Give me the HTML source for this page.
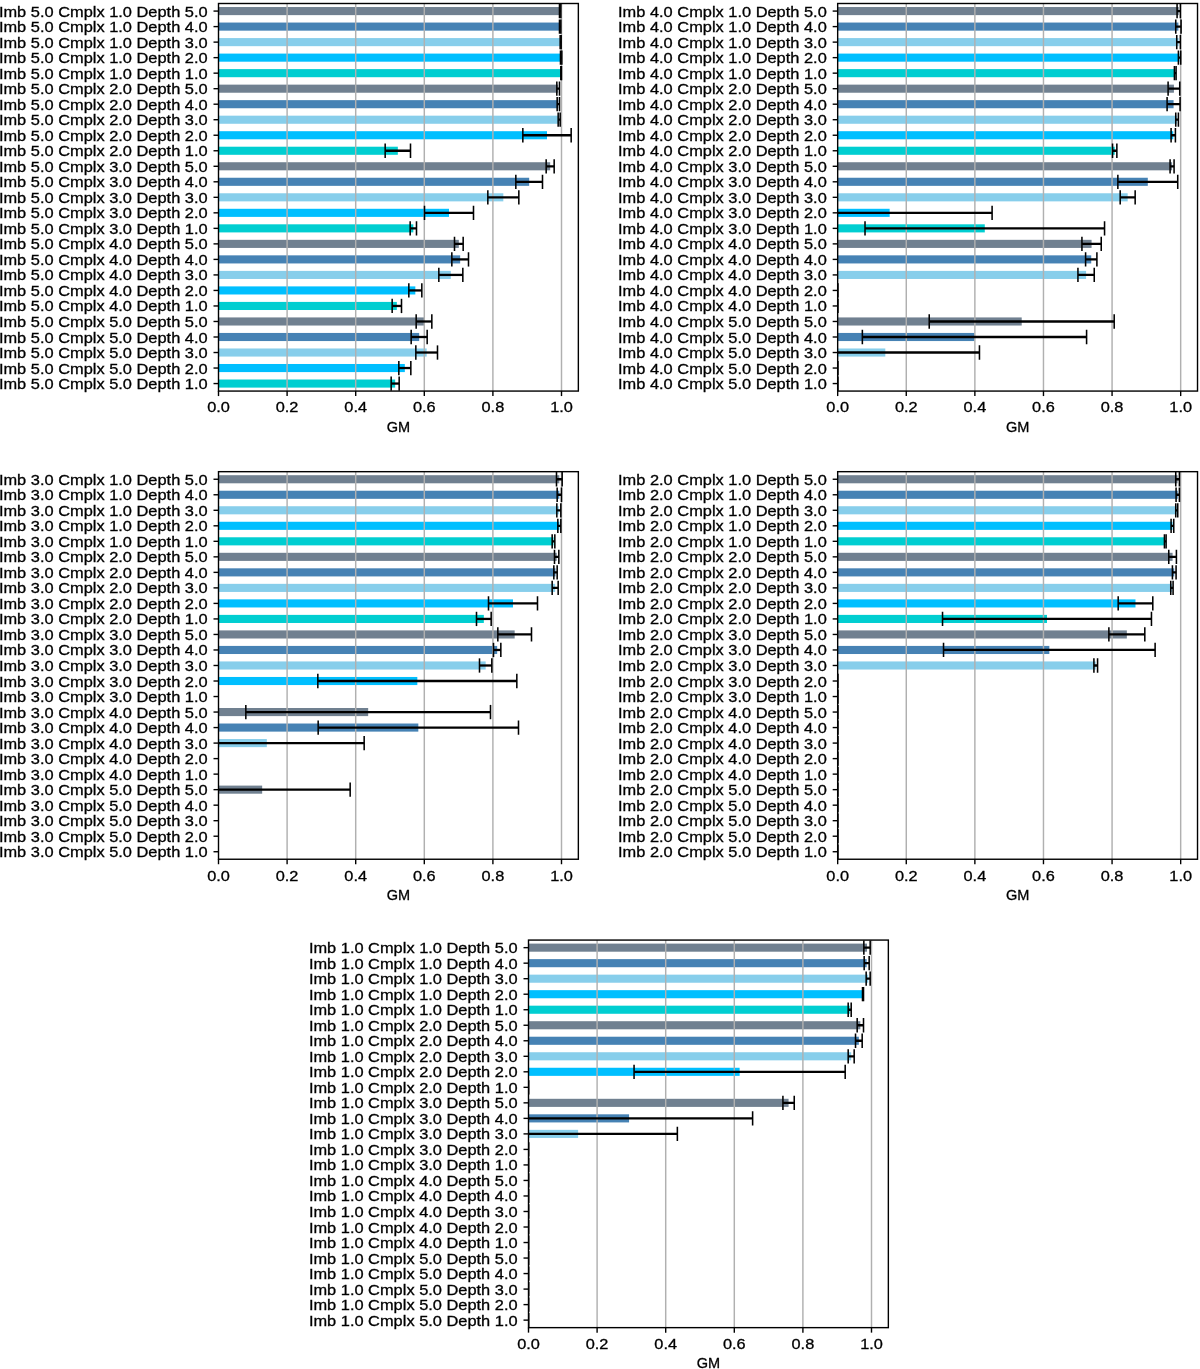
<!DOCTYPE html>
<html lang="en"><head><meta charset="utf-8"><title>GM bar charts</title>
<style>
html,body{margin:0;padding:0;background:#fff;}
body{width:1200px;height:1369px;overflow:hidden;}
svg{display:block;}
text{font-family:"Liberation Sans",sans-serif;font-size:14.6px;fill:#000;stroke:#000;stroke-width:0.3px;}
svg{will-change:transform;}
</style></head>
<body>

<svg width="1200" height="1369" viewBox="0 0 1200 1369">
<rect x="0" y="0" width="1200" height="1369" fill="#fff"/>
<g>
<clipPath id="c5"><rect x="218.5" y="3.5" width="359.85" height="387.57"/></clipPath>
<g clip-path="url(#c5)">
<g><rect x="218.5" y="7.03" width="341.67" height="8.1" fill="#708090"/><rect x="218.5" y="22.55" width="341.67" height="8.1" fill="#4682B4"/><rect x="218.5" y="38.07" width="342.17" height="8.1" fill="#87CEEB"/><rect x="218.5" y="53.59" width="342.67" height="8.1" fill="#00BFFF"/><rect x="218.5" y="69.11" width="342.67" height="8.1" fill="#00CED1"/><rect x="218.5" y="84.63" width="339.67" height="8.1" fill="#708090"/><rect x="218.5" y="100.15" width="339.83" height="8.1" fill="#4682B4"/><rect x="218.5" y="115.67" width="340.67" height="8.1" fill="#87CEEB"/><rect x="218.5" y="131.19" width="328.5" height="8.1" fill="#00BFFF"/><rect x="218.5" y="146.71" width="179.33" height="8.1" fill="#00CED1"/><rect x="218.5" y="162.23" width="331.67" height="8.1" fill="#708090"/><rect x="218.5" y="177.75" width="310.67" height="8.1" fill="#4682B4"/><rect x="218.5" y="193.27" width="284.83" height="8.1" fill="#87CEEB"/><rect x="218.5" y="208.79" width="230.5" height="8.1" fill="#00BFFF"/><rect x="218.5" y="224.31" width="194.83" height="8.1" fill="#00CED1"/><rect x="218.5" y="239.83" width="240.33" height="8.1" fill="#708090"/><rect x="218.5" y="255.35" width="241.67" height="8.1" fill="#4682B4"/><rect x="218.5" y="270.87" width="232.33" height="8.1" fill="#87CEEB"/><rect x="218.5" y="286.39" width="196.83" height="8.1" fill="#00BFFF"/><rect x="218.5" y="301.91" width="178.33" height="8.1" fill="#00CED1"/><rect x="218.5" y="317.43" width="205.5" height="8.1" fill="#708090"/><rect x="218.5" y="332.95" width="200.67" height="8.1" fill="#4682B4"/><rect x="218.5" y="348.47" width="208.17" height="8.1" fill="#87CEEB"/><rect x="218.5" y="363.99" width="186.33" height="8.1" fill="#00BFFF"/><rect x="218.5" y="379.51" width="176.67" height="8.1" fill="#00CED1"/></g>
<g stroke="#b0b0b0" stroke-width="1.45"><line x1="287.1" y1="3.5" x2="287.1" y2="391.07"/><line x1="355.7" y1="3.5" x2="355.7" y2="391.07"/><line x1="424.3" y1="3.5" x2="424.3" y2="391.07"/><line x1="492.9" y1="3.5" x2="492.9" y2="391.07"/><line x1="561.5" y1="3.5" x2="561.5" y2="391.07"/></g>
<g stroke="#000"><line x1="559.5" y1="11.08" x2="560.83" y2="11.08" stroke-width="2.3"/><line x1="559.5" y1="3.93" x2="559.5" y2="18.23" stroke-width="1.55"/><line x1="560.83" y1="3.93" x2="560.83" y2="18.23" stroke-width="1.55"/><line x1="559.5" y1="26.6" x2="560.83" y2="26.6" stroke-width="2.3"/><line x1="559.5" y1="19.45" x2="559.5" y2="33.75" stroke-width="1.55"/><line x1="560.83" y1="19.45" x2="560.83" y2="33.75" stroke-width="1.55"/><line x1="560.17" y1="42.12" x2="561.17" y2="42.12" stroke-width="2.3"/><line x1="560.17" y1="34.97" x2="560.17" y2="49.27" stroke-width="1.55"/><line x1="561.17" y1="34.97" x2="561.17" y2="49.27" stroke-width="1.55"/><line x1="560.5" y1="57.64" x2="561.83" y2="57.64" stroke-width="2.3"/><line x1="560.5" y1="50.49" x2="560.5" y2="64.79" stroke-width="1.55"/><line x1="561.83" y1="50.49" x2="561.83" y2="64.79" stroke-width="1.55"/><line x1="560.83" y1="73.16" x2="561.5" y2="73.16" stroke-width="2.3"/><line x1="560.83" y1="66.01" x2="560.83" y2="80.31" stroke-width="1.55"/><line x1="561.5" y1="66.01" x2="561.5" y2="80.31" stroke-width="1.55"/><line x1="556.83" y1="88.68" x2="559.5" y2="88.68" stroke-width="2.3"/><line x1="556.83" y1="81.53" x2="556.83" y2="95.83" stroke-width="1.55"/><line x1="559.5" y1="81.53" x2="559.5" y2="95.83" stroke-width="1.55"/><line x1="557.17" y1="104.2" x2="559.5" y2="104.2" stroke-width="2.3"/><line x1="557.17" y1="97.05" x2="557.17" y2="111.35" stroke-width="1.55"/><line x1="559.5" y1="97.05" x2="559.5" y2="111.35" stroke-width="1.55"/><line x1="558.17" y1="119.72" x2="560.17" y2="119.72" stroke-width="2.3"/><line x1="558.17" y1="112.57" x2="558.17" y2="126.87" stroke-width="1.55"/><line x1="560.17" y1="112.57" x2="560.17" y2="126.87" stroke-width="1.55"/><line x1="522.83" y1="135.24" x2="571.17" y2="135.24" stroke-width="2.3"/><line x1="522.83" y1="128.09" x2="522.83" y2="142.39" stroke-width="1.55"/><line x1="571.17" y1="128.09" x2="571.17" y2="142.39" stroke-width="1.55"/><line x1="385.17" y1="150.76" x2="410.5" y2="150.76" stroke-width="2.3"/><line x1="385.17" y1="143.61" x2="385.17" y2="157.91" stroke-width="1.55"/><line x1="410.5" y1="143.61" x2="410.5" y2="157.91" stroke-width="1.55"/><line x1="546.17" y1="166.28" x2="554.17" y2="166.28" stroke-width="2.3"/><line x1="546.17" y1="159.13" x2="546.17" y2="173.43" stroke-width="1.55"/><line x1="554.17" y1="159.13" x2="554.17" y2="173.43" stroke-width="1.55"/><line x1="515.83" y1="181.8" x2="542.5" y2="181.8" stroke-width="2.3"/><line x1="515.83" y1="174.65" x2="515.83" y2="188.95" stroke-width="1.55"/><line x1="542.5" y1="174.65" x2="542.5" y2="188.95" stroke-width="1.55"/><line x1="487.83" y1="197.32" x2="518.83" y2="197.32" stroke-width="2.3"/><line x1="487.83" y1="190.17" x2="487.83" y2="204.47" stroke-width="1.55"/><line x1="518.83" y1="190.17" x2="518.83" y2="204.47" stroke-width="1.55"/><line x1="424.5" y1="212.84" x2="473.5" y2="212.84" stroke-width="2.3"/><line x1="424.5" y1="205.69" x2="424.5" y2="219.99" stroke-width="1.55"/><line x1="473.5" y1="205.69" x2="473.5" y2="219.99" stroke-width="1.55"/><line x1="410.17" y1="228.36" x2="416.5" y2="228.36" stroke-width="2.3"/><line x1="410.17" y1="221.21" x2="410.17" y2="235.51" stroke-width="1.55"/><line x1="416.5" y1="221.21" x2="416.5" y2="235.51" stroke-width="1.55"/><line x1="454.5" y1="243.88" x2="463.17" y2="243.88" stroke-width="2.3"/><line x1="454.5" y1="236.73" x2="454.5" y2="251.03" stroke-width="1.55"/><line x1="463.17" y1="236.73" x2="463.17" y2="251.03" stroke-width="1.55"/><line x1="451.83" y1="259.4" x2="468.5" y2="259.4" stroke-width="2.3"/><line x1="451.83" y1="252.25" x2="451.83" y2="266.55" stroke-width="1.55"/><line x1="468.5" y1="252.25" x2="468.5" y2="266.55" stroke-width="1.55"/><line x1="438.83" y1="274.92" x2="462.83" y2="274.92" stroke-width="2.3"/><line x1="438.83" y1="267.77" x2="438.83" y2="282.07" stroke-width="1.55"/><line x1="462.83" y1="267.77" x2="462.83" y2="282.07" stroke-width="1.55"/><line x1="408.83" y1="290.44" x2="421.83" y2="290.44" stroke-width="2.3"/><line x1="408.83" y1="283.29" x2="408.83" y2="297.59" stroke-width="1.55"/><line x1="421.83" y1="283.29" x2="421.83" y2="297.59" stroke-width="1.55"/><line x1="392.17" y1="305.96" x2="401.5" y2="305.96" stroke-width="2.3"/><line x1="392.17" y1="298.81" x2="392.17" y2="313.11" stroke-width="1.55"/><line x1="401.5" y1="298.81" x2="401.5" y2="313.11" stroke-width="1.55"/><line x1="416.17" y1="321.48" x2="431.83" y2="321.48" stroke-width="2.3"/><line x1="416.17" y1="314.33" x2="416.17" y2="328.63" stroke-width="1.55"/><line x1="431.83" y1="314.33" x2="431.83" y2="328.63" stroke-width="1.55"/><line x1="411.17" y1="337" x2="427.17" y2="337" stroke-width="2.3"/><line x1="411.17" y1="329.85" x2="411.17" y2="344.15" stroke-width="1.55"/><line x1="427.17" y1="329.85" x2="427.17" y2="344.15" stroke-width="1.55"/><line x1="415.83" y1="352.52" x2="437.5" y2="352.52" stroke-width="2.3"/><line x1="415.83" y1="345.37" x2="415.83" y2="359.67" stroke-width="1.55"/><line x1="437.5" y1="345.37" x2="437.5" y2="359.67" stroke-width="1.55"/><line x1="398.83" y1="368.04" x2="410.83" y2="368.04" stroke-width="2.3"/><line x1="398.83" y1="360.89" x2="398.83" y2="375.19" stroke-width="1.55"/><line x1="410.83" y1="360.89" x2="410.83" y2="375.19" stroke-width="1.55"/><line x1="391.17" y1="383.56" x2="399.17" y2="383.56" stroke-width="2.3"/><line x1="391.17" y1="376.41" x2="391.17" y2="390.71" stroke-width="1.55"/><line x1="399.17" y1="376.41" x2="399.17" y2="390.71" stroke-width="1.55"/></g>
</g>
<g stroke="#000" stroke-width="1.4"><line x1="218.5" y1="391.07" x2="218.5" y2="396.07"/><line x1="287.1" y1="391.07" x2="287.1" y2="396.07"/><line x1="355.7" y1="391.07" x2="355.7" y2="396.07"/><line x1="424.3" y1="391.07" x2="424.3" y2="396.07"/><line x1="492.9" y1="391.07" x2="492.9" y2="396.07"/><line x1="561.5" y1="391.07" x2="561.5" y2="396.07"/><line x1="213.5" y1="11.08" x2="218.5" y2="11.08"/><line x1="213.5" y1="26.6" x2="218.5" y2="26.6"/><line x1="213.5" y1="42.12" x2="218.5" y2="42.12"/><line x1="213.5" y1="57.64" x2="218.5" y2="57.64"/><line x1="213.5" y1="73.16" x2="218.5" y2="73.16"/><line x1="213.5" y1="88.68" x2="218.5" y2="88.68"/><line x1="213.5" y1="104.2" x2="218.5" y2="104.2"/><line x1="213.5" y1="119.72" x2="218.5" y2="119.72"/><line x1="213.5" y1="135.24" x2="218.5" y2="135.24"/><line x1="213.5" y1="150.76" x2="218.5" y2="150.76"/><line x1="213.5" y1="166.28" x2="218.5" y2="166.28"/><line x1="213.5" y1="181.8" x2="218.5" y2="181.8"/><line x1="213.5" y1="197.32" x2="218.5" y2="197.32"/><line x1="213.5" y1="212.84" x2="218.5" y2="212.84"/><line x1="213.5" y1="228.36" x2="218.5" y2="228.36"/><line x1="213.5" y1="243.88" x2="218.5" y2="243.88"/><line x1="213.5" y1="259.4" x2="218.5" y2="259.4"/><line x1="213.5" y1="274.92" x2="218.5" y2="274.92"/><line x1="213.5" y1="290.44" x2="218.5" y2="290.44"/><line x1="213.5" y1="305.96" x2="218.5" y2="305.96"/><line x1="213.5" y1="321.48" x2="218.5" y2="321.48"/><line x1="213.5" y1="337" x2="218.5" y2="337"/><line x1="213.5" y1="352.52" x2="218.5" y2="352.52"/><line x1="213.5" y1="368.04" x2="218.5" y2="368.04"/><line x1="213.5" y1="383.56" x2="218.5" y2="383.56"/></g>
<rect x="218.5" y="3.5" width="359.85" height="387.57" fill="none" stroke="#000" stroke-width="1.4"/>
<g class="t"><text x="-1.1" y="16.58" textLength="208.7" lengthAdjust="spacingAndGlyphs">Imb 5.0 Cmplx 1.0 Depth 5.0</text><text x="-1.1" y="32.1" textLength="208.7" lengthAdjust="spacingAndGlyphs">Imb 5.0 Cmplx 1.0 Depth 4.0</text><text x="-1.1" y="47.62" textLength="208.7" lengthAdjust="spacingAndGlyphs">Imb 5.0 Cmplx 1.0 Depth 3.0</text><text x="-1.1" y="63.14" textLength="208.7" lengthAdjust="spacingAndGlyphs">Imb 5.0 Cmplx 1.0 Depth 2.0</text><text x="-1.1" y="78.66" textLength="208.7" lengthAdjust="spacingAndGlyphs">Imb 5.0 Cmplx 1.0 Depth 1.0</text><text x="-1.1" y="94.18" textLength="208.7" lengthAdjust="spacingAndGlyphs">Imb 5.0 Cmplx 2.0 Depth 5.0</text><text x="-1.1" y="109.7" textLength="208.7" lengthAdjust="spacingAndGlyphs">Imb 5.0 Cmplx 2.0 Depth 4.0</text><text x="-1.1" y="125.22" textLength="208.7" lengthAdjust="spacingAndGlyphs">Imb 5.0 Cmplx 2.0 Depth 3.0</text><text x="-1.1" y="140.74" textLength="208.7" lengthAdjust="spacingAndGlyphs">Imb 5.0 Cmplx 2.0 Depth 2.0</text><text x="-1.1" y="156.26" textLength="208.7" lengthAdjust="spacingAndGlyphs">Imb 5.0 Cmplx 2.0 Depth 1.0</text><text x="-1.1" y="171.78" textLength="208.7" lengthAdjust="spacingAndGlyphs">Imb 5.0 Cmplx 3.0 Depth 5.0</text><text x="-1.1" y="187.3" textLength="208.7" lengthAdjust="spacingAndGlyphs">Imb 5.0 Cmplx 3.0 Depth 4.0</text><text x="-1.1" y="202.82" textLength="208.7" lengthAdjust="spacingAndGlyphs">Imb 5.0 Cmplx 3.0 Depth 3.0</text><text x="-1.1" y="218.34" textLength="208.7" lengthAdjust="spacingAndGlyphs">Imb 5.0 Cmplx 3.0 Depth 2.0</text><text x="-1.1" y="233.86" textLength="208.7" lengthAdjust="spacingAndGlyphs">Imb 5.0 Cmplx 3.0 Depth 1.0</text><text x="-1.1" y="249.38" textLength="208.7" lengthAdjust="spacingAndGlyphs">Imb 5.0 Cmplx 4.0 Depth 5.0</text><text x="-1.1" y="264.9" textLength="208.7" lengthAdjust="spacingAndGlyphs">Imb 5.0 Cmplx 4.0 Depth 4.0</text><text x="-1.1" y="280.42" textLength="208.7" lengthAdjust="spacingAndGlyphs">Imb 5.0 Cmplx 4.0 Depth 3.0</text><text x="-1.1" y="295.94" textLength="208.7" lengthAdjust="spacingAndGlyphs">Imb 5.0 Cmplx 4.0 Depth 2.0</text><text x="-1.1" y="311.46" textLength="208.7" lengthAdjust="spacingAndGlyphs">Imb 5.0 Cmplx 4.0 Depth 1.0</text><text x="-1.1" y="326.98" textLength="208.7" lengthAdjust="spacingAndGlyphs">Imb 5.0 Cmplx 5.0 Depth 5.0</text><text x="-1.1" y="342.5" textLength="208.7" lengthAdjust="spacingAndGlyphs">Imb 5.0 Cmplx 5.0 Depth 4.0</text><text x="-1.1" y="358.02" textLength="208.7" lengthAdjust="spacingAndGlyphs">Imb 5.0 Cmplx 5.0 Depth 3.0</text><text x="-1.1" y="373.54" textLength="208.7" lengthAdjust="spacingAndGlyphs">Imb 5.0 Cmplx 5.0 Depth 2.0</text><text x="-1.1" y="389.06" textLength="208.7" lengthAdjust="spacingAndGlyphs">Imb 5.0 Cmplx 5.0 Depth 1.0</text></g>
<g class="t"><text x="218.5" y="412.37" text-anchor="middle" textLength="22.7" lengthAdjust="spacingAndGlyphs">0.0</text><text x="287.1" y="412.37" text-anchor="middle" textLength="22.7" lengthAdjust="spacingAndGlyphs">0.2</text><text x="355.7" y="412.37" text-anchor="middle" textLength="22.7" lengthAdjust="spacingAndGlyphs">0.4</text><text x="424.3" y="412.37" text-anchor="middle" textLength="22.7" lengthAdjust="spacingAndGlyphs">0.6</text><text x="492.9" y="412.37" text-anchor="middle" textLength="22.7" lengthAdjust="spacingAndGlyphs">0.8</text><text x="561.5" y="412.37" text-anchor="middle" textLength="22.7" lengthAdjust="spacingAndGlyphs">1.0</text><text x="398.43" y="431.87" text-anchor="middle" textLength="23.4" lengthAdjust="spacingAndGlyphs">GM</text></g>
</g>
<g>
<clipPath id="c4"><rect x="837.67" y="3.5" width="359.85" height="387.57"/></clipPath>
<g clip-path="url(#c4)">
<g><rect x="837.67" y="7.03" width="341.07" height="8.1" fill="#708090"/><rect x="837.67" y="22.55" width="340.74" height="8.1" fill="#4682B4"/><rect x="837.67" y="38.07" width="340.9" height="8.1" fill="#87CEEB"/><rect x="837.67" y="53.59" width="341.9" height="8.1" fill="#00BFFF"/><rect x="837.67" y="69.11" width="337.58" height="8.1" fill="#00CED1"/><rect x="837.67" y="84.63" width="336.25" height="8.1" fill="#708090"/><rect x="837.67" y="100.15" width="335.91" height="8.1" fill="#4682B4"/><rect x="837.67" y="115.67" width="339.41" height="8.1" fill="#87CEEB"/><rect x="837.67" y="131.19" width="335.58" height="8.1" fill="#00BFFF"/><rect x="837.67" y="146.71" width="277.03" height="8.1" fill="#00CED1"/><rect x="837.67" y="162.23" width="334.42" height="8.1" fill="#708090"/><rect x="837.67" y="177.75" width="310.13" height="8.1" fill="#4682B4"/><rect x="837.67" y="193.27" width="290" height="8.1" fill="#87CEEB"/><rect x="837.67" y="208.79" width="51.97" height="8.1" fill="#00BFFF"/><rect x="837.67" y="224.31" width="147.11" height="8.1" fill="#00CED1"/><rect x="837.67" y="239.83" width="253.91" height="8.1" fill="#708090"/><rect x="837.67" y="255.35" width="253.57" height="8.1" fill="#4682B4"/><rect x="837.67" y="270.87" width="248.42" height="8.1" fill="#87CEEB"/><rect x="837.67" y="317.43" width="184.04" height="8.1" fill="#708090"/><rect x="837.67" y="332.95" width="136.8" height="8.1" fill="#4682B4"/><rect x="837.67" y="348.47" width="47.64" height="8.1" fill="#87CEEB"/></g>
<g stroke="#b0b0b0" stroke-width="1.45"><line x1="906.27" y1="3.5" x2="906.27" y2="391.07"/><line x1="974.87" y1="3.5" x2="974.87" y2="391.07"/><line x1="1043.47" y1="3.5" x2="1043.47" y2="391.07"/><line x1="1112.07" y1="3.5" x2="1112.07" y2="391.07"/><line x1="1180.67" y1="3.5" x2="1180.67" y2="391.07"/></g>
<g stroke="#000"><line x1="1177.08" y1="11.08" x2="1180.4" y2="11.08" stroke-width="2.3"/><line x1="1177.08" y1="3.93" x2="1177.08" y2="18.23" stroke-width="1.55"/><line x1="1180.4" y1="3.93" x2="1180.4" y2="18.23" stroke-width="1.55"/><line x1="1175.75" y1="26.6" x2="1181.07" y2="26.6" stroke-width="2.3"/><line x1="1175.75" y1="19.45" x2="1175.75" y2="33.75" stroke-width="1.55"/><line x1="1181.07" y1="19.45" x2="1181.07" y2="33.75" stroke-width="1.55"/><line x1="1176.75" y1="42.12" x2="1180.4" y2="42.12" stroke-width="2.3"/><line x1="1176.75" y1="34.97" x2="1176.75" y2="49.27" stroke-width="1.55"/><line x1="1180.4" y1="34.97" x2="1180.4" y2="49.27" stroke-width="1.55"/><line x1="1178.41" y1="57.64" x2="1180.74" y2="57.64" stroke-width="2.3"/><line x1="1178.41" y1="50.49" x2="1178.41" y2="64.79" stroke-width="1.55"/><line x1="1180.74" y1="50.49" x2="1180.74" y2="64.79" stroke-width="1.55"/><line x1="1174.42" y1="73.16" x2="1176.08" y2="73.16" stroke-width="2.3"/><line x1="1174.42" y1="66.01" x2="1174.42" y2="80.31" stroke-width="1.55"/><line x1="1176.08" y1="66.01" x2="1176.08" y2="80.31" stroke-width="1.55"/><line x1="1168.1" y1="88.68" x2="1179.74" y2="88.68" stroke-width="2.3"/><line x1="1168.1" y1="81.53" x2="1168.1" y2="95.83" stroke-width="1.55"/><line x1="1179.74" y1="81.53" x2="1179.74" y2="95.83" stroke-width="1.55"/><line x1="1167.1" y1="104.2" x2="1180.07" y2="104.2" stroke-width="2.3"/><line x1="1167.1" y1="97.05" x2="1167.1" y2="111.35" stroke-width="1.55"/><line x1="1180.07" y1="97.05" x2="1180.07" y2="111.35" stroke-width="1.55"/><line x1="1175.75" y1="119.72" x2="1178.41" y2="119.72" stroke-width="2.3"/><line x1="1175.75" y1="112.57" x2="1175.75" y2="126.87" stroke-width="1.55"/><line x1="1178.41" y1="112.57" x2="1178.41" y2="126.87" stroke-width="1.55"/><line x1="1171.09" y1="135.24" x2="1175.41" y2="135.24" stroke-width="2.3"/><line x1="1171.09" y1="128.09" x2="1171.09" y2="142.39" stroke-width="1.55"/><line x1="1175.41" y1="128.09" x2="1175.41" y2="142.39" stroke-width="1.55"/><line x1="1112.54" y1="150.76" x2="1116.86" y2="150.76" stroke-width="2.3"/><line x1="1112.54" y1="143.61" x2="1112.54" y2="157.91" stroke-width="1.55"/><line x1="1116.86" y1="143.61" x2="1116.86" y2="157.91" stroke-width="1.55"/><line x1="1170.09" y1="166.28" x2="1174.08" y2="166.28" stroke-width="2.3"/><line x1="1170.09" y1="159.13" x2="1170.09" y2="173.43" stroke-width="1.55"/><line x1="1174.08" y1="159.13" x2="1174.08" y2="173.43" stroke-width="1.55"/><line x1="1117.86" y1="181.8" x2="1177.74" y2="181.8" stroke-width="2.3"/><line x1="1117.86" y1="174.65" x2="1117.86" y2="188.95" stroke-width="1.55"/><line x1="1177.74" y1="174.65" x2="1177.74" y2="188.95" stroke-width="1.55"/><line x1="1120.19" y1="197.32" x2="1135.16" y2="197.32" stroke-width="2.3"/><line x1="1120.19" y1="190.17" x2="1120.19" y2="204.47" stroke-width="1.55"/><line x1="1135.16" y1="190.17" x2="1135.16" y2="204.47" stroke-width="1.55"/><line x1="787.17" y1="212.84" x2="992.1" y2="212.84" stroke-width="2.3"/><line x1="786.77" y1="205.69" x2="786.77" y2="219.99" stroke-width="1.55"/><line x1="992.1" y1="205.69" x2="992.1" y2="219.99" stroke-width="1.55"/><line x1="865.02" y1="228.36" x2="1104.55" y2="228.36" stroke-width="2.3"/><line x1="865.02" y1="221.21" x2="865.02" y2="235.51" stroke-width="1.55"/><line x1="1104.55" y1="221.21" x2="1104.55" y2="235.51" stroke-width="1.55"/><line x1="1081.93" y1="243.88" x2="1101.23" y2="243.88" stroke-width="2.3"/><line x1="1081.93" y1="236.73" x2="1081.93" y2="251.03" stroke-width="1.55"/><line x1="1101.23" y1="236.73" x2="1101.23" y2="251.03" stroke-width="1.55"/><line x1="1085.59" y1="259.4" x2="1096.9" y2="259.4" stroke-width="2.3"/><line x1="1085.59" y1="252.25" x2="1085.59" y2="266.55" stroke-width="1.55"/><line x1="1096.9" y1="252.25" x2="1096.9" y2="266.55" stroke-width="1.55"/><line x1="1077.94" y1="274.92" x2="1094.24" y2="274.92" stroke-width="2.3"/><line x1="1077.94" y1="267.77" x2="1077.94" y2="282.07" stroke-width="1.55"/><line x1="1094.24" y1="267.77" x2="1094.24" y2="282.07" stroke-width="1.55"/><line x1="837.67" y1="283.29" x2="837.67" y2="297.59" stroke-width="1.55"/><line x1="837.67" y1="283.29" x2="837.67" y2="297.59" stroke-width="1.55"/><line x1="837.67" y1="298.81" x2="837.67" y2="313.11" stroke-width="1.55"/><line x1="837.67" y1="298.81" x2="837.67" y2="313.11" stroke-width="1.55"/><line x1="929.23" y1="321.48" x2="1114.2" y2="321.48" stroke-width="2.3"/><line x1="929.23" y1="314.33" x2="929.23" y2="328.63" stroke-width="1.55"/><line x1="1114.2" y1="314.33" x2="1114.2" y2="328.63" stroke-width="1.55"/><line x1="862.36" y1="337" x2="1086.59" y2="337" stroke-width="2.3"/><line x1="862.36" y1="329.85" x2="862.36" y2="344.15" stroke-width="1.55"/><line x1="1086.59" y1="329.85" x2="1086.59" y2="344.15" stroke-width="1.55"/><line x1="791.16" y1="352.52" x2="979.46" y2="352.52" stroke-width="2.3"/><line x1="790.76" y1="345.37" x2="790.76" y2="359.67" stroke-width="1.55"/><line x1="979.46" y1="345.37" x2="979.46" y2="359.67" stroke-width="1.55"/><line x1="837.67" y1="360.89" x2="837.67" y2="375.19" stroke-width="1.55"/><line x1="837.67" y1="360.89" x2="837.67" y2="375.19" stroke-width="1.55"/><line x1="837.67" y1="376.41" x2="837.67" y2="390.71" stroke-width="1.55"/><line x1="837.67" y1="376.41" x2="837.67" y2="390.71" stroke-width="1.55"/></g>
</g>
<g stroke="#000" stroke-width="1.4"><line x1="837.67" y1="391.07" x2="837.67" y2="396.07"/><line x1="906.27" y1="391.07" x2="906.27" y2="396.07"/><line x1="974.87" y1="391.07" x2="974.87" y2="396.07"/><line x1="1043.47" y1="391.07" x2="1043.47" y2="396.07"/><line x1="1112.07" y1="391.07" x2="1112.07" y2="396.07"/><line x1="1180.67" y1="391.07" x2="1180.67" y2="396.07"/><line x1="832.67" y1="11.08" x2="837.67" y2="11.08"/><line x1="832.67" y1="26.6" x2="837.67" y2="26.6"/><line x1="832.67" y1="42.12" x2="837.67" y2="42.12"/><line x1="832.67" y1="57.64" x2="837.67" y2="57.64"/><line x1="832.67" y1="73.16" x2="837.67" y2="73.16"/><line x1="832.67" y1="88.68" x2="837.67" y2="88.68"/><line x1="832.67" y1="104.2" x2="837.67" y2="104.2"/><line x1="832.67" y1="119.72" x2="837.67" y2="119.72"/><line x1="832.67" y1="135.24" x2="837.67" y2="135.24"/><line x1="832.67" y1="150.76" x2="837.67" y2="150.76"/><line x1="832.67" y1="166.28" x2="837.67" y2="166.28"/><line x1="832.67" y1="181.8" x2="837.67" y2="181.8"/><line x1="832.67" y1="197.32" x2="837.67" y2="197.32"/><line x1="832.67" y1="212.84" x2="837.67" y2="212.84"/><line x1="832.67" y1="228.36" x2="837.67" y2="228.36"/><line x1="832.67" y1="243.88" x2="837.67" y2="243.88"/><line x1="832.67" y1="259.4" x2="837.67" y2="259.4"/><line x1="832.67" y1="274.92" x2="837.67" y2="274.92"/><line x1="832.67" y1="290.44" x2="837.67" y2="290.44"/><line x1="832.67" y1="305.96" x2="837.67" y2="305.96"/><line x1="832.67" y1="321.48" x2="837.67" y2="321.48"/><line x1="832.67" y1="337" x2="837.67" y2="337"/><line x1="832.67" y1="352.52" x2="837.67" y2="352.52"/><line x1="832.67" y1="368.04" x2="837.67" y2="368.04"/><line x1="832.67" y1="383.56" x2="837.67" y2="383.56"/></g>
<rect x="837.67" y="3.5" width="359.85" height="387.57" fill="none" stroke="#000" stroke-width="1.4"/>
<g class="t"><text x="618.07" y="16.58" textLength="208.7" lengthAdjust="spacingAndGlyphs">Imb 4.0 Cmplx 1.0 Depth 5.0</text><text x="618.07" y="32.1" textLength="208.7" lengthAdjust="spacingAndGlyphs">Imb 4.0 Cmplx 1.0 Depth 4.0</text><text x="618.07" y="47.62" textLength="208.7" lengthAdjust="spacingAndGlyphs">Imb 4.0 Cmplx 1.0 Depth 3.0</text><text x="618.07" y="63.14" textLength="208.7" lengthAdjust="spacingAndGlyphs">Imb 4.0 Cmplx 1.0 Depth 2.0</text><text x="618.07" y="78.66" textLength="208.7" lengthAdjust="spacingAndGlyphs">Imb 4.0 Cmplx 1.0 Depth 1.0</text><text x="618.07" y="94.18" textLength="208.7" lengthAdjust="spacingAndGlyphs">Imb 4.0 Cmplx 2.0 Depth 5.0</text><text x="618.07" y="109.7" textLength="208.7" lengthAdjust="spacingAndGlyphs">Imb 4.0 Cmplx 2.0 Depth 4.0</text><text x="618.07" y="125.22" textLength="208.7" lengthAdjust="spacingAndGlyphs">Imb 4.0 Cmplx 2.0 Depth 3.0</text><text x="618.07" y="140.74" textLength="208.7" lengthAdjust="spacingAndGlyphs">Imb 4.0 Cmplx 2.0 Depth 2.0</text><text x="618.07" y="156.26" textLength="208.7" lengthAdjust="spacingAndGlyphs">Imb 4.0 Cmplx 2.0 Depth 1.0</text><text x="618.07" y="171.78" textLength="208.7" lengthAdjust="spacingAndGlyphs">Imb 4.0 Cmplx 3.0 Depth 5.0</text><text x="618.07" y="187.3" textLength="208.7" lengthAdjust="spacingAndGlyphs">Imb 4.0 Cmplx 3.0 Depth 4.0</text><text x="618.07" y="202.82" textLength="208.7" lengthAdjust="spacingAndGlyphs">Imb 4.0 Cmplx 3.0 Depth 3.0</text><text x="618.07" y="218.34" textLength="208.7" lengthAdjust="spacingAndGlyphs">Imb 4.0 Cmplx 3.0 Depth 2.0</text><text x="618.07" y="233.86" textLength="208.7" lengthAdjust="spacingAndGlyphs">Imb 4.0 Cmplx 3.0 Depth 1.0</text><text x="618.07" y="249.38" textLength="208.7" lengthAdjust="spacingAndGlyphs">Imb 4.0 Cmplx 4.0 Depth 5.0</text><text x="618.07" y="264.9" textLength="208.7" lengthAdjust="spacingAndGlyphs">Imb 4.0 Cmplx 4.0 Depth 4.0</text><text x="618.07" y="280.42" textLength="208.7" lengthAdjust="spacingAndGlyphs">Imb 4.0 Cmplx 4.0 Depth 3.0</text><text x="618.07" y="295.94" textLength="208.7" lengthAdjust="spacingAndGlyphs">Imb 4.0 Cmplx 4.0 Depth 2.0</text><text x="618.07" y="311.46" textLength="208.7" lengthAdjust="spacingAndGlyphs">Imb 4.0 Cmplx 4.0 Depth 1.0</text><text x="618.07" y="326.98" textLength="208.7" lengthAdjust="spacingAndGlyphs">Imb 4.0 Cmplx 5.0 Depth 5.0</text><text x="618.07" y="342.5" textLength="208.7" lengthAdjust="spacingAndGlyphs">Imb 4.0 Cmplx 5.0 Depth 4.0</text><text x="618.07" y="358.02" textLength="208.7" lengthAdjust="spacingAndGlyphs">Imb 4.0 Cmplx 5.0 Depth 3.0</text><text x="618.07" y="373.54" textLength="208.7" lengthAdjust="spacingAndGlyphs">Imb 4.0 Cmplx 5.0 Depth 2.0</text><text x="618.07" y="389.06" textLength="208.7" lengthAdjust="spacingAndGlyphs">Imb 4.0 Cmplx 5.0 Depth 1.0</text></g>
<g class="t"><text x="837.67" y="412.37" text-anchor="middle" textLength="22.7" lengthAdjust="spacingAndGlyphs">0.0</text><text x="906.27" y="412.37" text-anchor="middle" textLength="22.7" lengthAdjust="spacingAndGlyphs">0.2</text><text x="974.87" y="412.37" text-anchor="middle" textLength="22.7" lengthAdjust="spacingAndGlyphs">0.4</text><text x="1043.47" y="412.37" text-anchor="middle" textLength="22.7" lengthAdjust="spacingAndGlyphs">0.6</text><text x="1112.07" y="412.37" text-anchor="middle" textLength="22.7" lengthAdjust="spacingAndGlyphs">0.8</text><text x="1180.67" y="412.37" text-anchor="middle" textLength="22.7" lengthAdjust="spacingAndGlyphs">1.0</text><text x="1017.6" y="431.87" text-anchor="middle" textLength="23.4" lengthAdjust="spacingAndGlyphs">GM</text></g>
</g>
<g>
<clipPath id="c3"><rect x="218.5" y="471.67" width="359.85" height="387.57"/></clipPath>
<g clip-path="url(#c3)">
<g><rect x="218.5" y="475.2" width="340.83" height="8.1" fill="#708090"/><rect x="218.5" y="490.72" width="340.83" height="8.1" fill="#4682B4"/><rect x="218.5" y="506.24" width="340.33" height="8.1" fill="#87CEEB"/><rect x="218.5" y="521.76" width="340.83" height="8.1" fill="#00BFFF"/><rect x="218.5" y="537.28" width="335" height="8.1" fill="#00CED1"/><rect x="218.5" y="552.8" width="338.17" height="8.1" fill="#708090"/><rect x="218.5" y="568.32" width="337" height="8.1" fill="#4682B4"/><rect x="218.5" y="583.84" width="336.67" height="8.1" fill="#87CEEB"/><rect x="218.5" y="599.36" width="294.5" height="8.1" fill="#00BFFF"/><rect x="218.5" y="614.88" width="265.33" height="8.1" fill="#00CED1"/><rect x="218.5" y="630.4" width="296.17" height="8.1" fill="#708090"/><rect x="218.5" y="645.92" width="278.67" height="8.1" fill="#4682B4"/><rect x="218.5" y="661.44" width="267.17" height="8.1" fill="#87CEEB"/><rect x="218.5" y="676.96" width="198.83" height="8.1" fill="#00BFFF"/><rect x="218.5" y="708" width="149.67" height="8.1" fill="#708090"/><rect x="218.5" y="723.52" width="199.83" height="8.1" fill="#4682B4"/><rect x="218.5" y="739.04" width="48.33" height="8.1" fill="#87CEEB"/><rect x="218.5" y="785.6" width="43.67" height="8.1" fill="#708090"/></g>
<g stroke="#b0b0b0" stroke-width="1.45"><line x1="287.1" y1="471.67" x2="287.1" y2="859.24"/><line x1="355.7" y1="471.67" x2="355.7" y2="859.24"/><line x1="424.3" y1="471.67" x2="424.3" y2="859.24"/><line x1="492.9" y1="471.67" x2="492.9" y2="859.24"/><line x1="561.5" y1="471.67" x2="561.5" y2="859.24"/></g>
<g stroke="#000"><line x1="556.5" y1="479.25" x2="562.17" y2="479.25" stroke-width="2.3"/><line x1="556.5" y1="472.1" x2="556.5" y2="486.4" stroke-width="1.55"/><line x1="562.17" y1="472.1" x2="562.17" y2="486.4" stroke-width="1.55"/><line x1="557.17" y1="494.77" x2="561.5" y2="494.77" stroke-width="2.3"/><line x1="557.17" y1="487.62" x2="557.17" y2="501.92" stroke-width="1.55"/><line x1="561.5" y1="487.62" x2="561.5" y2="501.92" stroke-width="1.55"/><line x1="556.83" y1="510.29" x2="560.83" y2="510.29" stroke-width="2.3"/><line x1="556.83" y1="503.14" x2="556.83" y2="517.44" stroke-width="1.55"/><line x1="560.83" y1="503.14" x2="560.83" y2="517.44" stroke-width="1.55"/><line x1="557.83" y1="525.81" x2="560.83" y2="525.81" stroke-width="2.3"/><line x1="557.83" y1="518.66" x2="557.83" y2="532.96" stroke-width="1.55"/><line x1="560.83" y1="518.66" x2="560.83" y2="532.96" stroke-width="1.55"/><line x1="552.17" y1="541.33" x2="554.83" y2="541.33" stroke-width="2.3"/><line x1="552.17" y1="534.18" x2="552.17" y2="548.48" stroke-width="1.55"/><line x1="554.83" y1="534.18" x2="554.83" y2="548.48" stroke-width="1.55"/><line x1="554.5" y1="556.85" x2="558.83" y2="556.85" stroke-width="2.3"/><line x1="554.5" y1="549.7" x2="554.5" y2="564" stroke-width="1.55"/><line x1="558.83" y1="549.7" x2="558.83" y2="564" stroke-width="1.55"/><line x1="553.83" y1="572.37" x2="557.17" y2="572.37" stroke-width="2.3"/><line x1="553.83" y1="565.22" x2="553.83" y2="579.52" stroke-width="1.55"/><line x1="557.17" y1="565.22" x2="557.17" y2="579.52" stroke-width="1.55"/><line x1="552.17" y1="587.89" x2="558.17" y2="587.89" stroke-width="2.3"/><line x1="552.17" y1="580.74" x2="552.17" y2="595.04" stroke-width="1.55"/><line x1="558.17" y1="580.74" x2="558.17" y2="595.04" stroke-width="1.55"/><line x1="488.5" y1="603.41" x2="537.5" y2="603.41" stroke-width="2.3"/><line x1="488.5" y1="596.26" x2="488.5" y2="610.56" stroke-width="1.55"/><line x1="537.5" y1="596.26" x2="537.5" y2="610.56" stroke-width="1.55"/><line x1="476.5" y1="618.93" x2="491.17" y2="618.93" stroke-width="2.3"/><line x1="476.5" y1="611.78" x2="476.5" y2="626.08" stroke-width="1.55"/><line x1="491.17" y1="611.78" x2="491.17" y2="626.08" stroke-width="1.55"/><line x1="497.83" y1="634.45" x2="531.5" y2="634.45" stroke-width="2.3"/><line x1="497.83" y1="627.3" x2="497.83" y2="641.6" stroke-width="1.55"/><line x1="531.5" y1="627.3" x2="531.5" y2="641.6" stroke-width="1.55"/><line x1="493.5" y1="649.97" x2="500.83" y2="649.97" stroke-width="2.3"/><line x1="493.5" y1="642.82" x2="493.5" y2="657.12" stroke-width="1.55"/><line x1="500.83" y1="642.82" x2="500.83" y2="657.12" stroke-width="1.55"/><line x1="479.5" y1="665.49" x2="491.83" y2="665.49" stroke-width="2.3"/><line x1="479.5" y1="658.34" x2="479.5" y2="672.64" stroke-width="1.55"/><line x1="491.83" y1="658.34" x2="491.83" y2="672.64" stroke-width="1.55"/><line x1="317.83" y1="681.01" x2="516.83" y2="681.01" stroke-width="2.3"/><line x1="317.83" y1="673.86" x2="317.83" y2="688.16" stroke-width="1.55"/><line x1="516.83" y1="673.86" x2="516.83" y2="688.16" stroke-width="1.55"/><line x1="245.83" y1="712.05" x2="490.5" y2="712.05" stroke-width="2.3"/><line x1="245.83" y1="704.9" x2="245.83" y2="719.2" stroke-width="1.55"/><line x1="490.5" y1="704.9" x2="490.5" y2="719.2" stroke-width="1.55"/><line x1="318.17" y1="727.57" x2="518.5" y2="727.57" stroke-width="2.3"/><line x1="318.17" y1="720.42" x2="318.17" y2="734.72" stroke-width="1.55"/><line x1="518.5" y1="720.42" x2="518.5" y2="734.72" stroke-width="1.55"/><line x1="169.5" y1="743.09" x2="364.17" y2="743.09" stroke-width="2.3"/><line x1="169.5" y1="735.94" x2="169.5" y2="750.24" stroke-width="1.55"/><line x1="364.17" y1="735.94" x2="364.17" y2="750.24" stroke-width="1.55"/><line x1="174.17" y1="789.65" x2="350.17" y2="789.65" stroke-width="2.3"/><line x1="174.17" y1="782.5" x2="174.17" y2="796.8" stroke-width="1.55"/><line x1="350.17" y1="782.5" x2="350.17" y2="796.8" stroke-width="1.55"/></g>
</g>
<g stroke="#000" stroke-width="1.4"><line x1="218.5" y1="859.24" x2="218.5" y2="864.24"/><line x1="287.1" y1="859.24" x2="287.1" y2="864.24"/><line x1="355.7" y1="859.24" x2="355.7" y2="864.24"/><line x1="424.3" y1="859.24" x2="424.3" y2="864.24"/><line x1="492.9" y1="859.24" x2="492.9" y2="864.24"/><line x1="561.5" y1="859.24" x2="561.5" y2="864.24"/><line x1="213.5" y1="479.25" x2="218.5" y2="479.25"/><line x1="213.5" y1="494.77" x2="218.5" y2="494.77"/><line x1="213.5" y1="510.29" x2="218.5" y2="510.29"/><line x1="213.5" y1="525.81" x2="218.5" y2="525.81"/><line x1="213.5" y1="541.33" x2="218.5" y2="541.33"/><line x1="213.5" y1="556.85" x2="218.5" y2="556.85"/><line x1="213.5" y1="572.37" x2="218.5" y2="572.37"/><line x1="213.5" y1="587.89" x2="218.5" y2="587.89"/><line x1="213.5" y1="603.41" x2="218.5" y2="603.41"/><line x1="213.5" y1="618.93" x2="218.5" y2="618.93"/><line x1="213.5" y1="634.45" x2="218.5" y2="634.45"/><line x1="213.5" y1="649.97" x2="218.5" y2="649.97"/><line x1="213.5" y1="665.49" x2="218.5" y2="665.49"/><line x1="213.5" y1="681.01" x2="218.5" y2="681.01"/><line x1="213.5" y1="696.53" x2="218.5" y2="696.53"/><line x1="213.5" y1="712.05" x2="218.5" y2="712.05"/><line x1="213.5" y1="727.57" x2="218.5" y2="727.57"/><line x1="213.5" y1="743.09" x2="218.5" y2="743.09"/><line x1="213.5" y1="758.61" x2="218.5" y2="758.61"/><line x1="213.5" y1="774.13" x2="218.5" y2="774.13"/><line x1="213.5" y1="789.65" x2="218.5" y2="789.65"/><line x1="213.5" y1="805.17" x2="218.5" y2="805.17"/><line x1="213.5" y1="820.69" x2="218.5" y2="820.69"/><line x1="213.5" y1="836.21" x2="218.5" y2="836.21"/><line x1="213.5" y1="851.73" x2="218.5" y2="851.73"/></g>
<rect x="218.5" y="471.67" width="359.85" height="387.57" fill="none" stroke="#000" stroke-width="1.4"/>
<g class="t"><text x="-1.1" y="484.75" textLength="208.7" lengthAdjust="spacingAndGlyphs">Imb 3.0 Cmplx 1.0 Depth 5.0</text><text x="-1.1" y="500.27" textLength="208.7" lengthAdjust="spacingAndGlyphs">Imb 3.0 Cmplx 1.0 Depth 4.0</text><text x="-1.1" y="515.79" textLength="208.7" lengthAdjust="spacingAndGlyphs">Imb 3.0 Cmplx 1.0 Depth 3.0</text><text x="-1.1" y="531.31" textLength="208.7" lengthAdjust="spacingAndGlyphs">Imb 3.0 Cmplx 1.0 Depth 2.0</text><text x="-1.1" y="546.83" textLength="208.7" lengthAdjust="spacingAndGlyphs">Imb 3.0 Cmplx 1.0 Depth 1.0</text><text x="-1.1" y="562.35" textLength="208.7" lengthAdjust="spacingAndGlyphs">Imb 3.0 Cmplx 2.0 Depth 5.0</text><text x="-1.1" y="577.87" textLength="208.7" lengthAdjust="spacingAndGlyphs">Imb 3.0 Cmplx 2.0 Depth 4.0</text><text x="-1.1" y="593.39" textLength="208.7" lengthAdjust="spacingAndGlyphs">Imb 3.0 Cmplx 2.0 Depth 3.0</text><text x="-1.1" y="608.91" textLength="208.7" lengthAdjust="spacingAndGlyphs">Imb 3.0 Cmplx 2.0 Depth 2.0</text><text x="-1.1" y="624.43" textLength="208.7" lengthAdjust="spacingAndGlyphs">Imb 3.0 Cmplx 2.0 Depth 1.0</text><text x="-1.1" y="639.95" textLength="208.7" lengthAdjust="spacingAndGlyphs">Imb 3.0 Cmplx 3.0 Depth 5.0</text><text x="-1.1" y="655.47" textLength="208.7" lengthAdjust="spacingAndGlyphs">Imb 3.0 Cmplx 3.0 Depth 4.0</text><text x="-1.1" y="670.99" textLength="208.7" lengthAdjust="spacingAndGlyphs">Imb 3.0 Cmplx 3.0 Depth 3.0</text><text x="-1.1" y="686.51" textLength="208.7" lengthAdjust="spacingAndGlyphs">Imb 3.0 Cmplx 3.0 Depth 2.0</text><text x="-1.1" y="702.03" textLength="208.7" lengthAdjust="spacingAndGlyphs">Imb 3.0 Cmplx 3.0 Depth 1.0</text><text x="-1.1" y="717.55" textLength="208.7" lengthAdjust="spacingAndGlyphs">Imb 3.0 Cmplx 4.0 Depth 5.0</text><text x="-1.1" y="733.07" textLength="208.7" lengthAdjust="spacingAndGlyphs">Imb 3.0 Cmplx 4.0 Depth 4.0</text><text x="-1.1" y="748.59" textLength="208.7" lengthAdjust="spacingAndGlyphs">Imb 3.0 Cmplx 4.0 Depth 3.0</text><text x="-1.1" y="764.11" textLength="208.7" lengthAdjust="spacingAndGlyphs">Imb 3.0 Cmplx 4.0 Depth 2.0</text><text x="-1.1" y="779.63" textLength="208.7" lengthAdjust="spacingAndGlyphs">Imb 3.0 Cmplx 4.0 Depth 1.0</text><text x="-1.1" y="795.15" textLength="208.7" lengthAdjust="spacingAndGlyphs">Imb 3.0 Cmplx 5.0 Depth 5.0</text><text x="-1.1" y="810.67" textLength="208.7" lengthAdjust="spacingAndGlyphs">Imb 3.0 Cmplx 5.0 Depth 4.0</text><text x="-1.1" y="826.19" textLength="208.7" lengthAdjust="spacingAndGlyphs">Imb 3.0 Cmplx 5.0 Depth 3.0</text><text x="-1.1" y="841.71" textLength="208.7" lengthAdjust="spacingAndGlyphs">Imb 3.0 Cmplx 5.0 Depth 2.0</text><text x="-1.1" y="857.23" textLength="208.7" lengthAdjust="spacingAndGlyphs">Imb 3.0 Cmplx 5.0 Depth 1.0</text></g>
<g class="t"><text x="218.5" y="880.54" text-anchor="middle" textLength="22.7" lengthAdjust="spacingAndGlyphs">0.0</text><text x="287.1" y="880.54" text-anchor="middle" textLength="22.7" lengthAdjust="spacingAndGlyphs">0.2</text><text x="355.7" y="880.54" text-anchor="middle" textLength="22.7" lengthAdjust="spacingAndGlyphs">0.4</text><text x="424.3" y="880.54" text-anchor="middle" textLength="22.7" lengthAdjust="spacingAndGlyphs">0.6</text><text x="492.9" y="880.54" text-anchor="middle" textLength="22.7" lengthAdjust="spacingAndGlyphs">0.8</text><text x="561.5" y="880.54" text-anchor="middle" textLength="22.7" lengthAdjust="spacingAndGlyphs">1.0</text><text x="398.43" y="900.04" text-anchor="middle" textLength="23.4" lengthAdjust="spacingAndGlyphs">GM</text></g>
</g>
<g>
<clipPath id="c2"><rect x="837.67" y="471.67" width="359.85" height="387.57"/></clipPath>
<g clip-path="url(#c2)">
<g><rect x="837.67" y="475.2" width="339.91" height="8.1" fill="#708090"/><rect x="837.67" y="490.72" width="340.07" height="8.1" fill="#4682B4"/><rect x="837.67" y="506.24" width="339.08" height="8.1" fill="#87CEEB"/><rect x="837.67" y="521.76" width="334.75" height="8.1" fill="#00BFFF"/><rect x="837.67" y="537.28" width="327.6" height="8.1" fill="#00CED1"/><rect x="837.67" y="552.8" width="334.92" height="8.1" fill="#708090"/><rect x="837.67" y="568.32" width="336.58" height="8.1" fill="#4682B4"/><rect x="837.67" y="583.84" width="334.25" height="8.1" fill="#87CEEB"/><rect x="837.67" y="599.36" width="297.82" height="8.1" fill="#00BFFF"/><rect x="837.67" y="614.88" width="209.33" height="8.1" fill="#00CED1"/><rect x="837.67" y="630.4" width="289.17" height="8.1" fill="#708090"/><rect x="837.67" y="645.92" width="211.66" height="8.1" fill="#4682B4"/><rect x="837.67" y="661.44" width="258.07" height="8.1" fill="#87CEEB"/></g>
<g stroke="#b0b0b0" stroke-width="1.45"><line x1="906.27" y1="471.67" x2="906.27" y2="859.24"/><line x1="974.87" y1="471.67" x2="974.87" y2="859.24"/><line x1="1043.47" y1="471.67" x2="1043.47" y2="859.24"/><line x1="1112.07" y1="471.67" x2="1112.07" y2="859.24"/><line x1="1180.67" y1="471.67" x2="1180.67" y2="859.24"/></g>
<g stroke="#000"><line x1="1175.75" y1="479.25" x2="1179.41" y2="479.25" stroke-width="2.3"/><line x1="1175.75" y1="472.1" x2="1175.75" y2="486.4" stroke-width="1.55"/><line x1="1179.41" y1="472.1" x2="1179.41" y2="486.4" stroke-width="1.55"/><line x1="1176.08" y1="494.77" x2="1179.41" y2="494.77" stroke-width="2.3"/><line x1="1176.08" y1="487.62" x2="1176.08" y2="501.92" stroke-width="1.55"/><line x1="1179.41" y1="487.62" x2="1179.41" y2="501.92" stroke-width="1.55"/><line x1="1175.75" y1="510.29" x2="1177.74" y2="510.29" stroke-width="2.3"/><line x1="1175.75" y1="503.14" x2="1175.75" y2="517.44" stroke-width="1.55"/><line x1="1177.74" y1="503.14" x2="1177.74" y2="517.44" stroke-width="1.55"/><line x1="1171.09" y1="525.81" x2="1173.75" y2="525.81" stroke-width="2.3"/><line x1="1171.09" y1="518.66" x2="1171.09" y2="532.96" stroke-width="1.55"/><line x1="1173.75" y1="518.66" x2="1173.75" y2="532.96" stroke-width="1.55"/><line x1="1164.44" y1="541.33" x2="1166.1" y2="541.33" stroke-width="2.3"/><line x1="1164.44" y1="534.18" x2="1164.44" y2="548.48" stroke-width="1.55"/><line x1="1166.1" y1="534.18" x2="1166.1" y2="548.48" stroke-width="1.55"/><line x1="1168.76" y1="556.85" x2="1176.41" y2="556.85" stroke-width="2.3"/><line x1="1168.76" y1="549.7" x2="1168.76" y2="564" stroke-width="1.55"/><line x1="1176.41" y1="549.7" x2="1176.41" y2="564" stroke-width="1.55"/><line x1="1172.42" y1="572.37" x2="1176.08" y2="572.37" stroke-width="2.3"/><line x1="1172.42" y1="565.22" x2="1172.42" y2="579.52" stroke-width="1.55"/><line x1="1176.08" y1="565.22" x2="1176.08" y2="579.52" stroke-width="1.55"/><line x1="1170.76" y1="587.89" x2="1173.09" y2="587.89" stroke-width="2.3"/><line x1="1170.76" y1="580.74" x2="1170.76" y2="595.04" stroke-width="1.55"/><line x1="1173.09" y1="580.74" x2="1173.09" y2="595.04" stroke-width="1.55"/><line x1="1118.19" y1="603.41" x2="1152.79" y2="603.41" stroke-width="2.3"/><line x1="1118.19" y1="596.26" x2="1118.19" y2="610.56" stroke-width="1.55"/><line x1="1152.79" y1="596.26" x2="1152.79" y2="610.56" stroke-width="1.55"/><line x1="942.53" y1="618.93" x2="1151.46" y2="618.93" stroke-width="2.3"/><line x1="942.53" y1="611.78" x2="942.53" y2="626.08" stroke-width="1.55"/><line x1="1151.46" y1="611.78" x2="1151.46" y2="626.08" stroke-width="1.55"/><line x1="1108.88" y1="634.45" x2="1144.81" y2="634.45" stroke-width="2.3"/><line x1="1108.88" y1="627.3" x2="1108.88" y2="641.6" stroke-width="1.55"/><line x1="1144.81" y1="627.3" x2="1144.81" y2="641.6" stroke-width="1.55"/><line x1="943.53" y1="649.97" x2="1155.12" y2="649.97" stroke-width="2.3"/><line x1="943.53" y1="642.82" x2="943.53" y2="657.12" stroke-width="1.55"/><line x1="1155.12" y1="642.82" x2="1155.12" y2="657.12" stroke-width="1.55"/><line x1="1093.91" y1="665.49" x2="1097.57" y2="665.49" stroke-width="2.3"/><line x1="1093.91" y1="658.34" x2="1093.91" y2="672.64" stroke-width="1.55"/><line x1="1097.57" y1="658.34" x2="1097.57" y2="672.64" stroke-width="1.55"/><line x1="837.67" y1="673.86" x2="837.67" y2="688.16" stroke-width="1.55"/><line x1="837.67" y1="673.86" x2="837.67" y2="688.16" stroke-width="1.55"/><line x1="837.67" y1="689.38" x2="837.67" y2="703.68" stroke-width="1.55"/><line x1="837.67" y1="689.38" x2="837.67" y2="703.68" stroke-width="1.55"/><line x1="837.67" y1="704.9" x2="837.67" y2="719.2" stroke-width="1.55"/><line x1="837.67" y1="704.9" x2="837.67" y2="719.2" stroke-width="1.55"/><line x1="837.67" y1="720.42" x2="837.67" y2="734.72" stroke-width="1.55"/><line x1="837.67" y1="720.42" x2="837.67" y2="734.72" stroke-width="1.55"/><line x1="837.67" y1="735.94" x2="837.67" y2="750.24" stroke-width="1.55"/><line x1="837.67" y1="735.94" x2="837.67" y2="750.24" stroke-width="1.55"/><line x1="837.67" y1="751.46" x2="837.67" y2="765.76" stroke-width="1.55"/><line x1="837.67" y1="751.46" x2="837.67" y2="765.76" stroke-width="1.55"/><line x1="837.67" y1="766.98" x2="837.67" y2="781.28" stroke-width="1.55"/><line x1="837.67" y1="766.98" x2="837.67" y2="781.28" stroke-width="1.55"/><line x1="837.67" y1="782.5" x2="837.67" y2="796.8" stroke-width="1.55"/><line x1="837.67" y1="782.5" x2="837.67" y2="796.8" stroke-width="1.55"/><line x1="837.67" y1="798.02" x2="837.67" y2="812.32" stroke-width="1.55"/><line x1="837.67" y1="798.02" x2="837.67" y2="812.32" stroke-width="1.55"/><line x1="837.67" y1="813.54" x2="837.67" y2="827.84" stroke-width="1.55"/><line x1="837.67" y1="813.54" x2="837.67" y2="827.84" stroke-width="1.55"/><line x1="837.67" y1="829.06" x2="837.67" y2="843.36" stroke-width="1.55"/><line x1="837.67" y1="829.06" x2="837.67" y2="843.36" stroke-width="1.55"/><line x1="837.67" y1="844.58" x2="837.67" y2="858.88" stroke-width="1.55"/><line x1="837.67" y1="844.58" x2="837.67" y2="858.88" stroke-width="1.55"/></g>
</g>
<g stroke="#000" stroke-width="1.4"><line x1="837.67" y1="859.24" x2="837.67" y2="864.24"/><line x1="906.27" y1="859.24" x2="906.27" y2="864.24"/><line x1="974.87" y1="859.24" x2="974.87" y2="864.24"/><line x1="1043.47" y1="859.24" x2="1043.47" y2="864.24"/><line x1="1112.07" y1="859.24" x2="1112.07" y2="864.24"/><line x1="1180.67" y1="859.24" x2="1180.67" y2="864.24"/><line x1="832.67" y1="479.25" x2="837.67" y2="479.25"/><line x1="832.67" y1="494.77" x2="837.67" y2="494.77"/><line x1="832.67" y1="510.29" x2="837.67" y2="510.29"/><line x1="832.67" y1="525.81" x2="837.67" y2="525.81"/><line x1="832.67" y1="541.33" x2="837.67" y2="541.33"/><line x1="832.67" y1="556.85" x2="837.67" y2="556.85"/><line x1="832.67" y1="572.37" x2="837.67" y2="572.37"/><line x1="832.67" y1="587.89" x2="837.67" y2="587.89"/><line x1="832.67" y1="603.41" x2="837.67" y2="603.41"/><line x1="832.67" y1="618.93" x2="837.67" y2="618.93"/><line x1="832.67" y1="634.45" x2="837.67" y2="634.45"/><line x1="832.67" y1="649.97" x2="837.67" y2="649.97"/><line x1="832.67" y1="665.49" x2="837.67" y2="665.49"/><line x1="832.67" y1="681.01" x2="837.67" y2="681.01"/><line x1="832.67" y1="696.53" x2="837.67" y2="696.53"/><line x1="832.67" y1="712.05" x2="837.67" y2="712.05"/><line x1="832.67" y1="727.57" x2="837.67" y2="727.57"/><line x1="832.67" y1="743.09" x2="837.67" y2="743.09"/><line x1="832.67" y1="758.61" x2="837.67" y2="758.61"/><line x1="832.67" y1="774.13" x2="837.67" y2="774.13"/><line x1="832.67" y1="789.65" x2="837.67" y2="789.65"/><line x1="832.67" y1="805.17" x2="837.67" y2="805.17"/><line x1="832.67" y1="820.69" x2="837.67" y2="820.69"/><line x1="832.67" y1="836.21" x2="837.67" y2="836.21"/><line x1="832.67" y1="851.73" x2="837.67" y2="851.73"/></g>
<rect x="837.67" y="471.67" width="359.85" height="387.57" fill="none" stroke="#000" stroke-width="1.4"/>
<g class="t"><text x="618.07" y="484.75" textLength="208.7" lengthAdjust="spacingAndGlyphs">Imb 2.0 Cmplx 1.0 Depth 5.0</text><text x="618.07" y="500.27" textLength="208.7" lengthAdjust="spacingAndGlyphs">Imb 2.0 Cmplx 1.0 Depth 4.0</text><text x="618.07" y="515.79" textLength="208.7" lengthAdjust="spacingAndGlyphs">Imb 2.0 Cmplx 1.0 Depth 3.0</text><text x="618.07" y="531.31" textLength="208.7" lengthAdjust="spacingAndGlyphs">Imb 2.0 Cmplx 1.0 Depth 2.0</text><text x="618.07" y="546.83" textLength="208.7" lengthAdjust="spacingAndGlyphs">Imb 2.0 Cmplx 1.0 Depth 1.0</text><text x="618.07" y="562.35" textLength="208.7" lengthAdjust="spacingAndGlyphs">Imb 2.0 Cmplx 2.0 Depth 5.0</text><text x="618.07" y="577.87" textLength="208.7" lengthAdjust="spacingAndGlyphs">Imb 2.0 Cmplx 2.0 Depth 4.0</text><text x="618.07" y="593.39" textLength="208.7" lengthAdjust="spacingAndGlyphs">Imb 2.0 Cmplx 2.0 Depth 3.0</text><text x="618.07" y="608.91" textLength="208.7" lengthAdjust="spacingAndGlyphs">Imb 2.0 Cmplx 2.0 Depth 2.0</text><text x="618.07" y="624.43" textLength="208.7" lengthAdjust="spacingAndGlyphs">Imb 2.0 Cmplx 2.0 Depth 1.0</text><text x="618.07" y="639.95" textLength="208.7" lengthAdjust="spacingAndGlyphs">Imb 2.0 Cmplx 3.0 Depth 5.0</text><text x="618.07" y="655.47" textLength="208.7" lengthAdjust="spacingAndGlyphs">Imb 2.0 Cmplx 3.0 Depth 4.0</text><text x="618.07" y="670.99" textLength="208.7" lengthAdjust="spacingAndGlyphs">Imb 2.0 Cmplx 3.0 Depth 3.0</text><text x="618.07" y="686.51" textLength="208.7" lengthAdjust="spacingAndGlyphs">Imb 2.0 Cmplx 3.0 Depth 2.0</text><text x="618.07" y="702.03" textLength="208.7" lengthAdjust="spacingAndGlyphs">Imb 2.0 Cmplx 3.0 Depth 1.0</text><text x="618.07" y="717.55" textLength="208.7" lengthAdjust="spacingAndGlyphs">Imb 2.0 Cmplx 4.0 Depth 5.0</text><text x="618.07" y="733.07" textLength="208.7" lengthAdjust="spacingAndGlyphs">Imb 2.0 Cmplx 4.0 Depth 4.0</text><text x="618.07" y="748.59" textLength="208.7" lengthAdjust="spacingAndGlyphs">Imb 2.0 Cmplx 4.0 Depth 3.0</text><text x="618.07" y="764.11" textLength="208.7" lengthAdjust="spacingAndGlyphs">Imb 2.0 Cmplx 4.0 Depth 2.0</text><text x="618.07" y="779.63" textLength="208.7" lengthAdjust="spacingAndGlyphs">Imb 2.0 Cmplx 4.0 Depth 1.0</text><text x="618.07" y="795.15" textLength="208.7" lengthAdjust="spacingAndGlyphs">Imb 2.0 Cmplx 5.0 Depth 5.0</text><text x="618.07" y="810.67" textLength="208.7" lengthAdjust="spacingAndGlyphs">Imb 2.0 Cmplx 5.0 Depth 4.0</text><text x="618.07" y="826.19" textLength="208.7" lengthAdjust="spacingAndGlyphs">Imb 2.0 Cmplx 5.0 Depth 3.0</text><text x="618.07" y="841.71" textLength="208.7" lengthAdjust="spacingAndGlyphs">Imb 2.0 Cmplx 5.0 Depth 2.0</text><text x="618.07" y="857.23" textLength="208.7" lengthAdjust="spacingAndGlyphs">Imb 2.0 Cmplx 5.0 Depth 1.0</text></g>
<g class="t"><text x="837.67" y="880.54" text-anchor="middle" textLength="22.7" lengthAdjust="spacingAndGlyphs">0.0</text><text x="906.27" y="880.54" text-anchor="middle" textLength="22.7" lengthAdjust="spacingAndGlyphs">0.2</text><text x="974.87" y="880.54" text-anchor="middle" textLength="22.7" lengthAdjust="spacingAndGlyphs">0.4</text><text x="1043.47" y="880.54" text-anchor="middle" textLength="22.7" lengthAdjust="spacingAndGlyphs">0.6</text><text x="1112.07" y="880.54" text-anchor="middle" textLength="22.7" lengthAdjust="spacingAndGlyphs">0.8</text><text x="1180.67" y="880.54" text-anchor="middle" textLength="22.7" lengthAdjust="spacingAndGlyphs">1.0</text><text x="1017.6" y="900.04" text-anchor="middle" textLength="23.4" lengthAdjust="spacingAndGlyphs">GM</text></g>
</g>
<g>
<clipPath id="c1"><rect x="528.5" y="940.07" width="359.85" height="387.57"/></clipPath>
<g clip-path="url(#c1)">
<g><rect x="528.5" y="943.6" width="338.5" height="8.1" fill="#708090"/><rect x="528.5" y="959.12" width="338.17" height="8.1" fill="#4682B4"/><rect x="528.5" y="974.64" width="339.67" height="8.1" fill="#87CEEB"/><rect x="528.5" y="990.16" width="334.51" height="8.1" fill="#00BFFF"/><rect x="528.5" y="1005.68" width="321.19" height="8.1" fill="#00CED1"/><rect x="528.5" y="1021.2" width="331.84" height="8.1" fill="#708090"/><rect x="528.5" y="1036.72" width="330.35" height="8.1" fill="#4682B4"/><rect x="528.5" y="1052.24" width="322.69" height="8.1" fill="#87CEEB"/><rect x="528.5" y="1067.76" width="211.13" height="8.1" fill="#00BFFF"/><rect x="528.5" y="1098.8" width="260.08" height="8.1" fill="#708090"/><rect x="528.5" y="1114.32" width="100.57" height="8.1" fill="#4682B4"/><rect x="528.5" y="1129.84" width="49.62" height="8.1" fill="#87CEEB"/></g>
<g stroke="#b0b0b0" stroke-width="1.45"><line x1="597.1" y1="940.07" x2="597.1" y2="1327.64"/><line x1="665.7" y1="940.07" x2="665.7" y2="1327.64"/><line x1="734.3" y1="940.07" x2="734.3" y2="1327.64"/><line x1="802.9" y1="940.07" x2="802.9" y2="1327.64"/><line x1="871.5" y1="940.07" x2="871.5" y2="1327.64"/></g>
<g stroke="#000"><line x1="863.84" y1="947.65" x2="870.17" y2="947.65" stroke-width="2.3"/><line x1="863.84" y1="940.5" x2="863.84" y2="954.8" stroke-width="1.55"/><line x1="870.17" y1="940.5" x2="870.17" y2="954.8" stroke-width="1.55"/><line x1="864.17" y1="963.17" x2="869.17" y2="963.17" stroke-width="2.3"/><line x1="864.17" y1="956.02" x2="864.17" y2="970.32" stroke-width="1.55"/><line x1="869.17" y1="956.02" x2="869.17" y2="970.32" stroke-width="1.55"/><line x1="866.17" y1="978.69" x2="870.17" y2="978.69" stroke-width="2.3"/><line x1="866.17" y1="971.54" x2="866.17" y2="985.84" stroke-width="1.55"/><line x1="870.17" y1="971.54" x2="870.17" y2="985.84" stroke-width="1.55"/><line x1="862.51" y1="994.21" x2="863.51" y2="994.21" stroke-width="2.3"/><line x1="862.51" y1="987.06" x2="862.51" y2="1001.36" stroke-width="1.55"/><line x1="863.51" y1="987.06" x2="863.51" y2="1001.36" stroke-width="1.55"/><line x1="848.19" y1="1009.73" x2="851.19" y2="1009.73" stroke-width="2.3"/><line x1="848.19" y1="1002.58" x2="848.19" y2="1016.88" stroke-width="1.55"/><line x1="851.19" y1="1002.58" x2="851.19" y2="1016.88" stroke-width="1.55"/><line x1="857.18" y1="1025.25" x2="863.51" y2="1025.25" stroke-width="2.3"/><line x1="857.18" y1="1018.1" x2="857.18" y2="1032.4" stroke-width="1.55"/><line x1="863.51" y1="1018.1" x2="863.51" y2="1032.4" stroke-width="1.55"/><line x1="855.52" y1="1040.77" x2="862.18" y2="1040.77" stroke-width="2.3"/><line x1="855.52" y1="1033.62" x2="855.52" y2="1047.92" stroke-width="1.55"/><line x1="862.18" y1="1033.62" x2="862.18" y2="1047.92" stroke-width="1.55"/><line x1="848.19" y1="1056.29" x2="854.18" y2="1056.29" stroke-width="2.3"/><line x1="848.19" y1="1049.14" x2="848.19" y2="1063.44" stroke-width="1.55"/><line x1="854.18" y1="1049.14" x2="854.18" y2="1063.44" stroke-width="1.55"/><line x1="634.06" y1="1071.81" x2="845.19" y2="1071.81" stroke-width="2.3"/><line x1="634.06" y1="1064.66" x2="634.06" y2="1078.96" stroke-width="1.55"/><line x1="845.19" y1="1064.66" x2="845.19" y2="1078.96" stroke-width="1.55"/><line x1="528.5" y1="1080.18" x2="528.5" y2="1094.48" stroke-width="1.55"/><line x1="528.5" y1="1080.18" x2="528.5" y2="1094.48" stroke-width="1.55"/><line x1="782.92" y1="1102.85" x2="794.24" y2="1102.85" stroke-width="2.3"/><line x1="782.92" y1="1095.7" x2="782.92" y2="1110" stroke-width="1.55"/><line x1="794.24" y1="1095.7" x2="794.24" y2="1110" stroke-width="1.55"/><line x1="505.52" y1="1118.37" x2="752.62" y2="1118.37" stroke-width="2.3"/><line x1="505.52" y1="1111.22" x2="505.52" y2="1125.52" stroke-width="1.55"/><line x1="752.62" y1="1111.22" x2="752.62" y2="1125.52" stroke-width="1.55"/><line x1="478.88" y1="1133.89" x2="677.36" y2="1133.89" stroke-width="2.3"/><line x1="478.88" y1="1126.74" x2="478.88" y2="1141.04" stroke-width="1.55"/><line x1="677.36" y1="1126.74" x2="677.36" y2="1141.04" stroke-width="1.55"/><line x1="528.5" y1="1142.26" x2="528.5" y2="1156.56" stroke-width="1.55"/><line x1="528.5" y1="1142.26" x2="528.5" y2="1156.56" stroke-width="1.55"/><line x1="528.5" y1="1157.78" x2="528.5" y2="1172.08" stroke-width="1.55"/><line x1="528.5" y1="1157.78" x2="528.5" y2="1172.08" stroke-width="1.55"/><line x1="528.5" y1="1173.3" x2="528.5" y2="1187.6" stroke-width="1.55"/><line x1="528.5" y1="1173.3" x2="528.5" y2="1187.6" stroke-width="1.55"/><line x1="528.5" y1="1188.82" x2="528.5" y2="1203.12" stroke-width="1.55"/><line x1="528.5" y1="1188.82" x2="528.5" y2="1203.12" stroke-width="1.55"/><line x1="528.5" y1="1204.34" x2="528.5" y2="1218.64" stroke-width="1.55"/><line x1="528.5" y1="1204.34" x2="528.5" y2="1218.64" stroke-width="1.55"/><line x1="528.5" y1="1219.86" x2="528.5" y2="1234.16" stroke-width="1.55"/><line x1="528.5" y1="1219.86" x2="528.5" y2="1234.16" stroke-width="1.55"/><line x1="528.5" y1="1235.38" x2="528.5" y2="1249.68" stroke-width="1.55"/><line x1="528.5" y1="1235.38" x2="528.5" y2="1249.68" stroke-width="1.55"/><line x1="528.5" y1="1250.9" x2="528.5" y2="1265.2" stroke-width="1.55"/><line x1="528.5" y1="1250.9" x2="528.5" y2="1265.2" stroke-width="1.55"/><line x1="528.5" y1="1266.42" x2="528.5" y2="1280.72" stroke-width="1.55"/><line x1="528.5" y1="1266.42" x2="528.5" y2="1280.72" stroke-width="1.55"/><line x1="528.5" y1="1281.94" x2="528.5" y2="1296.24" stroke-width="1.55"/><line x1="528.5" y1="1281.94" x2="528.5" y2="1296.24" stroke-width="1.55"/><line x1="528.5" y1="1297.46" x2="528.5" y2="1311.76" stroke-width="1.55"/><line x1="528.5" y1="1297.46" x2="528.5" y2="1311.76" stroke-width="1.55"/><line x1="528.5" y1="1312.98" x2="528.5" y2="1327.28" stroke-width="1.55"/><line x1="528.5" y1="1312.98" x2="528.5" y2="1327.28" stroke-width="1.55"/></g>
</g>
<g stroke="#000" stroke-width="1.4"><line x1="528.5" y1="1327.64" x2="528.5" y2="1332.64"/><line x1="597.1" y1="1327.64" x2="597.1" y2="1332.64"/><line x1="665.7" y1="1327.64" x2="665.7" y2="1332.64"/><line x1="734.3" y1="1327.64" x2="734.3" y2="1332.64"/><line x1="802.9" y1="1327.64" x2="802.9" y2="1332.64"/><line x1="871.5" y1="1327.64" x2="871.5" y2="1332.64"/><line x1="523.5" y1="947.65" x2="528.5" y2="947.65"/><line x1="523.5" y1="963.17" x2="528.5" y2="963.17"/><line x1="523.5" y1="978.69" x2="528.5" y2="978.69"/><line x1="523.5" y1="994.21" x2="528.5" y2="994.21"/><line x1="523.5" y1="1009.73" x2="528.5" y2="1009.73"/><line x1="523.5" y1="1025.25" x2="528.5" y2="1025.25"/><line x1="523.5" y1="1040.77" x2="528.5" y2="1040.77"/><line x1="523.5" y1="1056.29" x2="528.5" y2="1056.29"/><line x1="523.5" y1="1071.81" x2="528.5" y2="1071.81"/><line x1="523.5" y1="1087.33" x2="528.5" y2="1087.33"/><line x1="523.5" y1="1102.85" x2="528.5" y2="1102.85"/><line x1="523.5" y1="1118.37" x2="528.5" y2="1118.37"/><line x1="523.5" y1="1133.89" x2="528.5" y2="1133.89"/><line x1="523.5" y1="1149.41" x2="528.5" y2="1149.41"/><line x1="523.5" y1="1164.93" x2="528.5" y2="1164.93"/><line x1="523.5" y1="1180.45" x2="528.5" y2="1180.45"/><line x1="523.5" y1="1195.97" x2="528.5" y2="1195.97"/><line x1="523.5" y1="1211.49" x2="528.5" y2="1211.49"/><line x1="523.5" y1="1227.01" x2="528.5" y2="1227.01"/><line x1="523.5" y1="1242.53" x2="528.5" y2="1242.53"/><line x1="523.5" y1="1258.05" x2="528.5" y2="1258.05"/><line x1="523.5" y1="1273.57" x2="528.5" y2="1273.57"/><line x1="523.5" y1="1289.09" x2="528.5" y2="1289.09"/><line x1="523.5" y1="1304.61" x2="528.5" y2="1304.61"/><line x1="523.5" y1="1320.13" x2="528.5" y2="1320.13"/></g>
<rect x="528.5" y="940.07" width="359.85" height="387.57" fill="none" stroke="#000" stroke-width="1.4"/>
<g class="t"><text x="308.9" y="953.15" textLength="208.7" lengthAdjust="spacingAndGlyphs">Imb 1.0 Cmplx 1.0 Depth 5.0</text><text x="308.9" y="968.67" textLength="208.7" lengthAdjust="spacingAndGlyphs">Imb 1.0 Cmplx 1.0 Depth 4.0</text><text x="308.9" y="984.19" textLength="208.7" lengthAdjust="spacingAndGlyphs">Imb 1.0 Cmplx 1.0 Depth 3.0</text><text x="308.9" y="999.71" textLength="208.7" lengthAdjust="spacingAndGlyphs">Imb 1.0 Cmplx 1.0 Depth 2.0</text><text x="308.9" y="1015.23" textLength="208.7" lengthAdjust="spacingAndGlyphs">Imb 1.0 Cmplx 1.0 Depth 1.0</text><text x="308.9" y="1030.75" textLength="208.7" lengthAdjust="spacingAndGlyphs">Imb 1.0 Cmplx 2.0 Depth 5.0</text><text x="308.9" y="1046.27" textLength="208.7" lengthAdjust="spacingAndGlyphs">Imb 1.0 Cmplx 2.0 Depth 4.0</text><text x="308.9" y="1061.79" textLength="208.7" lengthAdjust="spacingAndGlyphs">Imb 1.0 Cmplx 2.0 Depth 3.0</text><text x="308.9" y="1077.31" textLength="208.7" lengthAdjust="spacingAndGlyphs">Imb 1.0 Cmplx 2.0 Depth 2.0</text><text x="308.9" y="1092.83" textLength="208.7" lengthAdjust="spacingAndGlyphs">Imb 1.0 Cmplx 2.0 Depth 1.0</text><text x="308.9" y="1108.35" textLength="208.7" lengthAdjust="spacingAndGlyphs">Imb 1.0 Cmplx 3.0 Depth 5.0</text><text x="308.9" y="1123.87" textLength="208.7" lengthAdjust="spacingAndGlyphs">Imb 1.0 Cmplx 3.0 Depth 4.0</text><text x="308.9" y="1139.39" textLength="208.7" lengthAdjust="spacingAndGlyphs">Imb 1.0 Cmplx 3.0 Depth 3.0</text><text x="308.9" y="1154.91" textLength="208.7" lengthAdjust="spacingAndGlyphs">Imb 1.0 Cmplx 3.0 Depth 2.0</text><text x="308.9" y="1170.43" textLength="208.7" lengthAdjust="spacingAndGlyphs">Imb 1.0 Cmplx 3.0 Depth 1.0</text><text x="308.9" y="1185.95" textLength="208.7" lengthAdjust="spacingAndGlyphs">Imb 1.0 Cmplx 4.0 Depth 5.0</text><text x="308.9" y="1201.47" textLength="208.7" lengthAdjust="spacingAndGlyphs">Imb 1.0 Cmplx 4.0 Depth 4.0</text><text x="308.9" y="1216.99" textLength="208.7" lengthAdjust="spacingAndGlyphs">Imb 1.0 Cmplx 4.0 Depth 3.0</text><text x="308.9" y="1232.51" textLength="208.7" lengthAdjust="spacingAndGlyphs">Imb 1.0 Cmplx 4.0 Depth 2.0</text><text x="308.9" y="1248.03" textLength="208.7" lengthAdjust="spacingAndGlyphs">Imb 1.0 Cmplx 4.0 Depth 1.0</text><text x="308.9" y="1263.55" textLength="208.7" lengthAdjust="spacingAndGlyphs">Imb 1.0 Cmplx 5.0 Depth 5.0</text><text x="308.9" y="1279.07" textLength="208.7" lengthAdjust="spacingAndGlyphs">Imb 1.0 Cmplx 5.0 Depth 4.0</text><text x="308.9" y="1294.59" textLength="208.7" lengthAdjust="spacingAndGlyphs">Imb 1.0 Cmplx 5.0 Depth 3.0</text><text x="308.9" y="1310.11" textLength="208.7" lengthAdjust="spacingAndGlyphs">Imb 1.0 Cmplx 5.0 Depth 2.0</text><text x="308.9" y="1325.63" textLength="208.7" lengthAdjust="spacingAndGlyphs">Imb 1.0 Cmplx 5.0 Depth 1.0</text></g>
<g class="t"><text x="528.5" y="1348.94" text-anchor="middle" textLength="22.7" lengthAdjust="spacingAndGlyphs">0.0</text><text x="597.1" y="1348.94" text-anchor="middle" textLength="22.7" lengthAdjust="spacingAndGlyphs">0.2</text><text x="665.7" y="1348.94" text-anchor="middle" textLength="22.7" lengthAdjust="spacingAndGlyphs">0.4</text><text x="734.3" y="1348.94" text-anchor="middle" textLength="22.7" lengthAdjust="spacingAndGlyphs">0.6</text><text x="802.9" y="1348.94" text-anchor="middle" textLength="22.7" lengthAdjust="spacingAndGlyphs">0.8</text><text x="871.5" y="1348.94" text-anchor="middle" textLength="22.7" lengthAdjust="spacingAndGlyphs">1.0</text><text x="708.42" y="1368.44" text-anchor="middle" textLength="23.4" lengthAdjust="spacingAndGlyphs">GM</text></g>
</g>
</svg>
</body></html>
